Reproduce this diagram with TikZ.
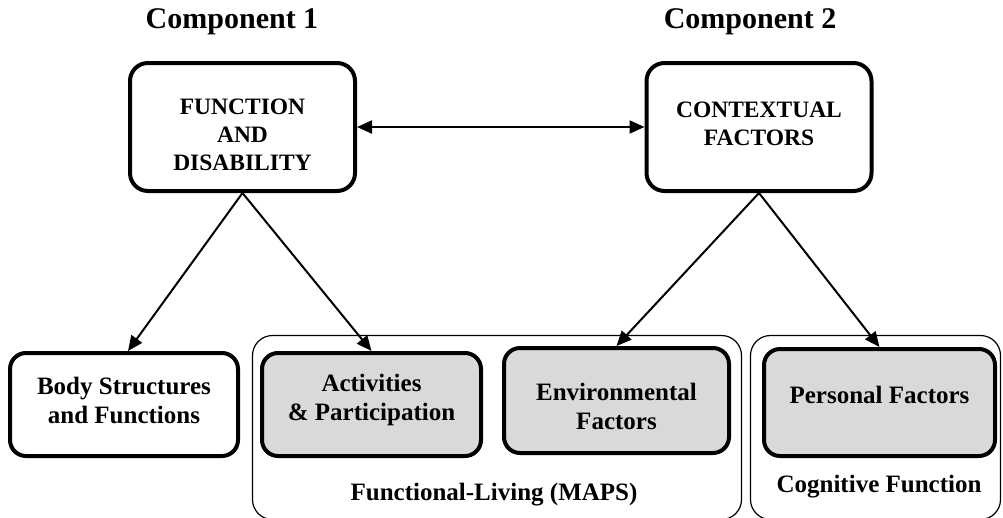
\documentclass[tikz,border=0pt]{standalone}
\usepackage{fontspec}
\setmainfont{Liberation Serif}
\usetikzlibrary{arrows.meta,positioning}
\definecolor{boxgray}{RGB}{217,217,217}
\begin{document}
\begin{tikzpicture}[x=1pt,y=-1pt,>={Triangle[length=15pt,width=13pt]},
    topbox/.style={draw, line width=4pt, rounded corners=18pt, minimum width=225pt, minimum height=128pt},
    lowbox/.style={draw, line width=4pt, rounded corners=16pt, minimum height=103pt},
    graybox/.style={lowbox, fill=boxgray},
    groupbox/.style={draw, line width=1.2pt, rounded corners=20pt, minimum height=184pt},
    heading/.style={font=\fontsize{30}{36}\selectfont\bfseries},
    captext/.style={align=center, font=\fontsize{23.5}{28}\selectfont\bfseries},
    boxtext/.style={align=center, font=\fontsize{25}{29}\selectfont\bfseries},
    link/.style={->, line width=2pt}]
                \useasboundingbox (0,0) rectangle (1003,517);
                % 1) Headings over the two components
                \node[heading] (comp1) at (232,22) {Component 1};
                \node[heading] (comp2) at (750,22) {Component 2};
                % 2) Top boxes and the two-way arrow between them
                \node[topbox] (fd) at (242.5,127) {};
                \node[captext] (fdtext) at ([yshift=-8pt]fd.center) {FUNCTION\\AND\\DISABILITY};
                \node[topbox] (cf) at (759,127) {};
                \node[captext] (cftext) at ([yshift=3pt]cf.center) {CONTEXTUAL\\FACTORS};
                \draw[<->, line width=2pt] (fd) -- (cf);
                % 3) Thin frames that group the lower boxes
                \node[groupbox, minimum width=489pt] (living) at (497,427.5) {};
                \node[groupbox, minimum width=250pt] (cognitive) at (875.5,427.5) {};
                \node[boxtext] (livingtext) at (494,495) {Functional-Living (MAPS)};
                \node[boxtext] (cognitivetext) at (879,487) {Cognitive Function};
                % 4) Lower boxes (grey = inside a group)
                \node[lowbox, minimum width=228pt] (body) at (124,404.5) {};
                \node[boxtext] (bodytext) at ([yshift=4.5pt]body.center) {Body Structures\\and Functions};
                \node[graybox, minimum width=219pt] (act) at (371.5,404.5) {};
                \node[boxtext] (acttext) at ([yshift=4.5pt]act.center) {Activities\\\& Participation};
                \node[graybox, minimum width=225pt, minimum height=105pt] (env) at (616.5,400.5) {};
                \node[boxtext] (envtext) at ([yshift=-5.5pt]env.center) {Environmental\\Factors};
                \node[graybox, minimum width=231pt, minimum height=107pt] (pers) at (879.5,402.5) {};
                \node[boxtext] (perstext) at ([yshift=7.5pt]pers.center) {Personal Factors};
                % 5) Arrows down from each component
                \draw[link] (fd.south) -- ([xshift=4pt]body.north);
                \draw[link] (fd.south) -- (act.north);
                \draw[link] (cf.south) -- (env.north);
                \draw[link] (cf.south) -- (pers.north);
            \end{tikzpicture}
\end{document}
